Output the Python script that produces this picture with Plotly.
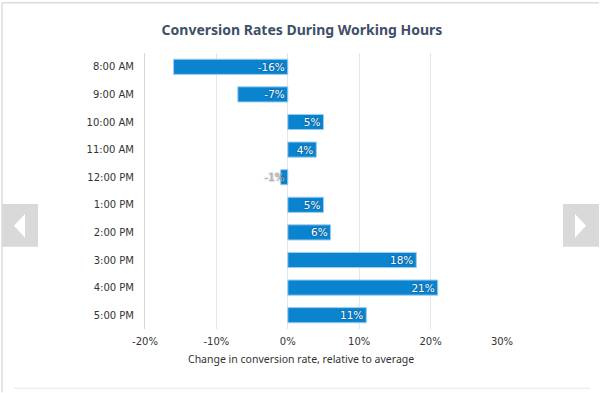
import plotly.graph_objects as go

hours = ["8:00 AM", "9:00 AM", "10:00 AM", "11:00 AM", "12:00 PM",
         "1:00 PM", "2:00 PM", "3:00 PM", "4:00 PM", "5:00 PM"]
change_pct = [-16, -7, 5, 4, -1, 5, 6, 18, 21, 11]
x_ticks = [-20, -10, 0, 10, 20, 30]
x_tick_labels = ["-20%", "-10%", "0%", "10%", "20%", "30%"]
x_title = "Change in conversion rate, relative to average"

W, H = 600, 393
ML, MR, MT, MB = 145, 98, 52.5, 63.5
PW, PH = W - ML - MR, H - MT - MB


def px(x):
    return (x - ML) / PW


def py(y):
    return (H - MB - y) / PH


FONT = "DejaVu Sans"
TFONT = "Noto Sans"
BAR = "#0a84cf"

neg_idx = [i for i, v in enumerate(change_pct) if v < 0]
pos_idx = [i for i, v in enumerate(change_pct) if v >= 0]

fig = go.Figure()
for idx, anchor in ((pos_idx, "end"), (neg_idx, "start")):
    fig.add_trace(go.Bar(
        orientation="h",
        y=[hours[i] for i in idx],
        x=[change_pct[i] for i in idx],
        text=[f"{change_pct[i]}%" for i in idx],
        textposition="inside",
        insidetextanchor=anchor,
        constraintext="none",
        cliponaxis=False,
        textangle=0,
        textfont=dict(family=FONT, size=10.5,
                      color=["#b0b0b0" if abs(change_pct[i]) < 2 else "white"
                             for i in idx],
                      shadow="0px 0px 2px rgba(0,0,0,0.55)"),
        marker=dict(color=BAR, line=dict(color="#9fcdef", width=1)),
        showlegend=False,
        hoverinfo="skip",
    ))

shapes = []
# page frame lines
shapes.append(dict(type="line", xref="paper", yref="paper",
                   x0=px(2), x1=px(599), y0=py(2), y1=py(2),
                   line=dict(color="#dcdcdc", width=1.5)))
shapes.append(dict(type="line", xref="paper", yref="paper",
                   x0=px(2), x1=px(2), y0=py(2), y1=py(393),
                   line=dict(color="#dcdcdc", width=1.5)))
shapes.append(dict(type="line", xref="paper", yref="paper",
                   x0=px(14), x1=px(590), y0=py(389), y1=py(389),
                   line=dict(color="#e6e6e6", width=1)))
# navigation buttons
for x0, x1 in ((2, 38), (563, 599)):
    shapes.append(dict(type="rect", xref="paper", yref="paper",
                       x0=px(x0), x1=px(x1), y0=py(247), y1=py(204),
                       fillcolor="#d9d9d9", line=dict(width=0), layer="above"))


def tri(pts):
    s = "M " + " L ".join(f"{px(a)},{py(b)}" for a, b in pts) + " Z"
    return dict(type="path", xref="paper", yref="paper", path=s,
                fillcolor="white", line=dict(width=0), layer="above")


shapes.append(tri([(25, 214), (25, 238), (14, 226)]))
shapes.append(tri([(575, 214), (575, 238), (586, 226)]))

fig.update_layout(
    width=W, height=H,
    margin=dict(l=ML, r=MR, t=MT, b=MB, autoexpand=False),
    paper_bgcolor="white", plot_bgcolor="white",
    barmode="overlay", bargap=0.45,
    title=dict(text="Conversion Rates During Working Hours",
               x=302 / W, xanchor="center", y=1 - 30 / H, yanchor="middle",
               font=dict(family=TFONT, size=14, color="#3e5068", weight="bold")),
    xaxis=dict(range=[-20, 30], tickvals=x_ticks, ticktext=x_tick_labels,
               showgrid=True, gridcolor="#e6e6e6", gridwidth=1,
               zeroline=False, showline=False, ticks="",
               tickfont=dict(family=FONT, size=10, color="#333333"),
               ticklabelstandoff=5,
               fixedrange=True),
    yaxis=dict(categoryorder="array", categoryarray=hours, autorange="reversed",
               showgrid=False, showline=True, linecolor="#d8d8d8", linewidth=1,
               ticks="",
               tickfont=dict(family=FONT, size=10, color="#333333"),
               ticklabelstandoff=8, fixedrange=True),
    annotations=[dict(text=x_title, xref="paper", yref="paper",
                      x=px(301), y=py(360), xanchor="center", yanchor="middle",
                      showarrow=False,
                      font=dict(family=TFONT, size=10.5, color="#333333"))],
    shapes=shapes,
)
fig.write_html("out.html", config={"displayModeBar": False},
               post_script="document.body.style.margin='0';document.body.style.overflow='hidden';")
